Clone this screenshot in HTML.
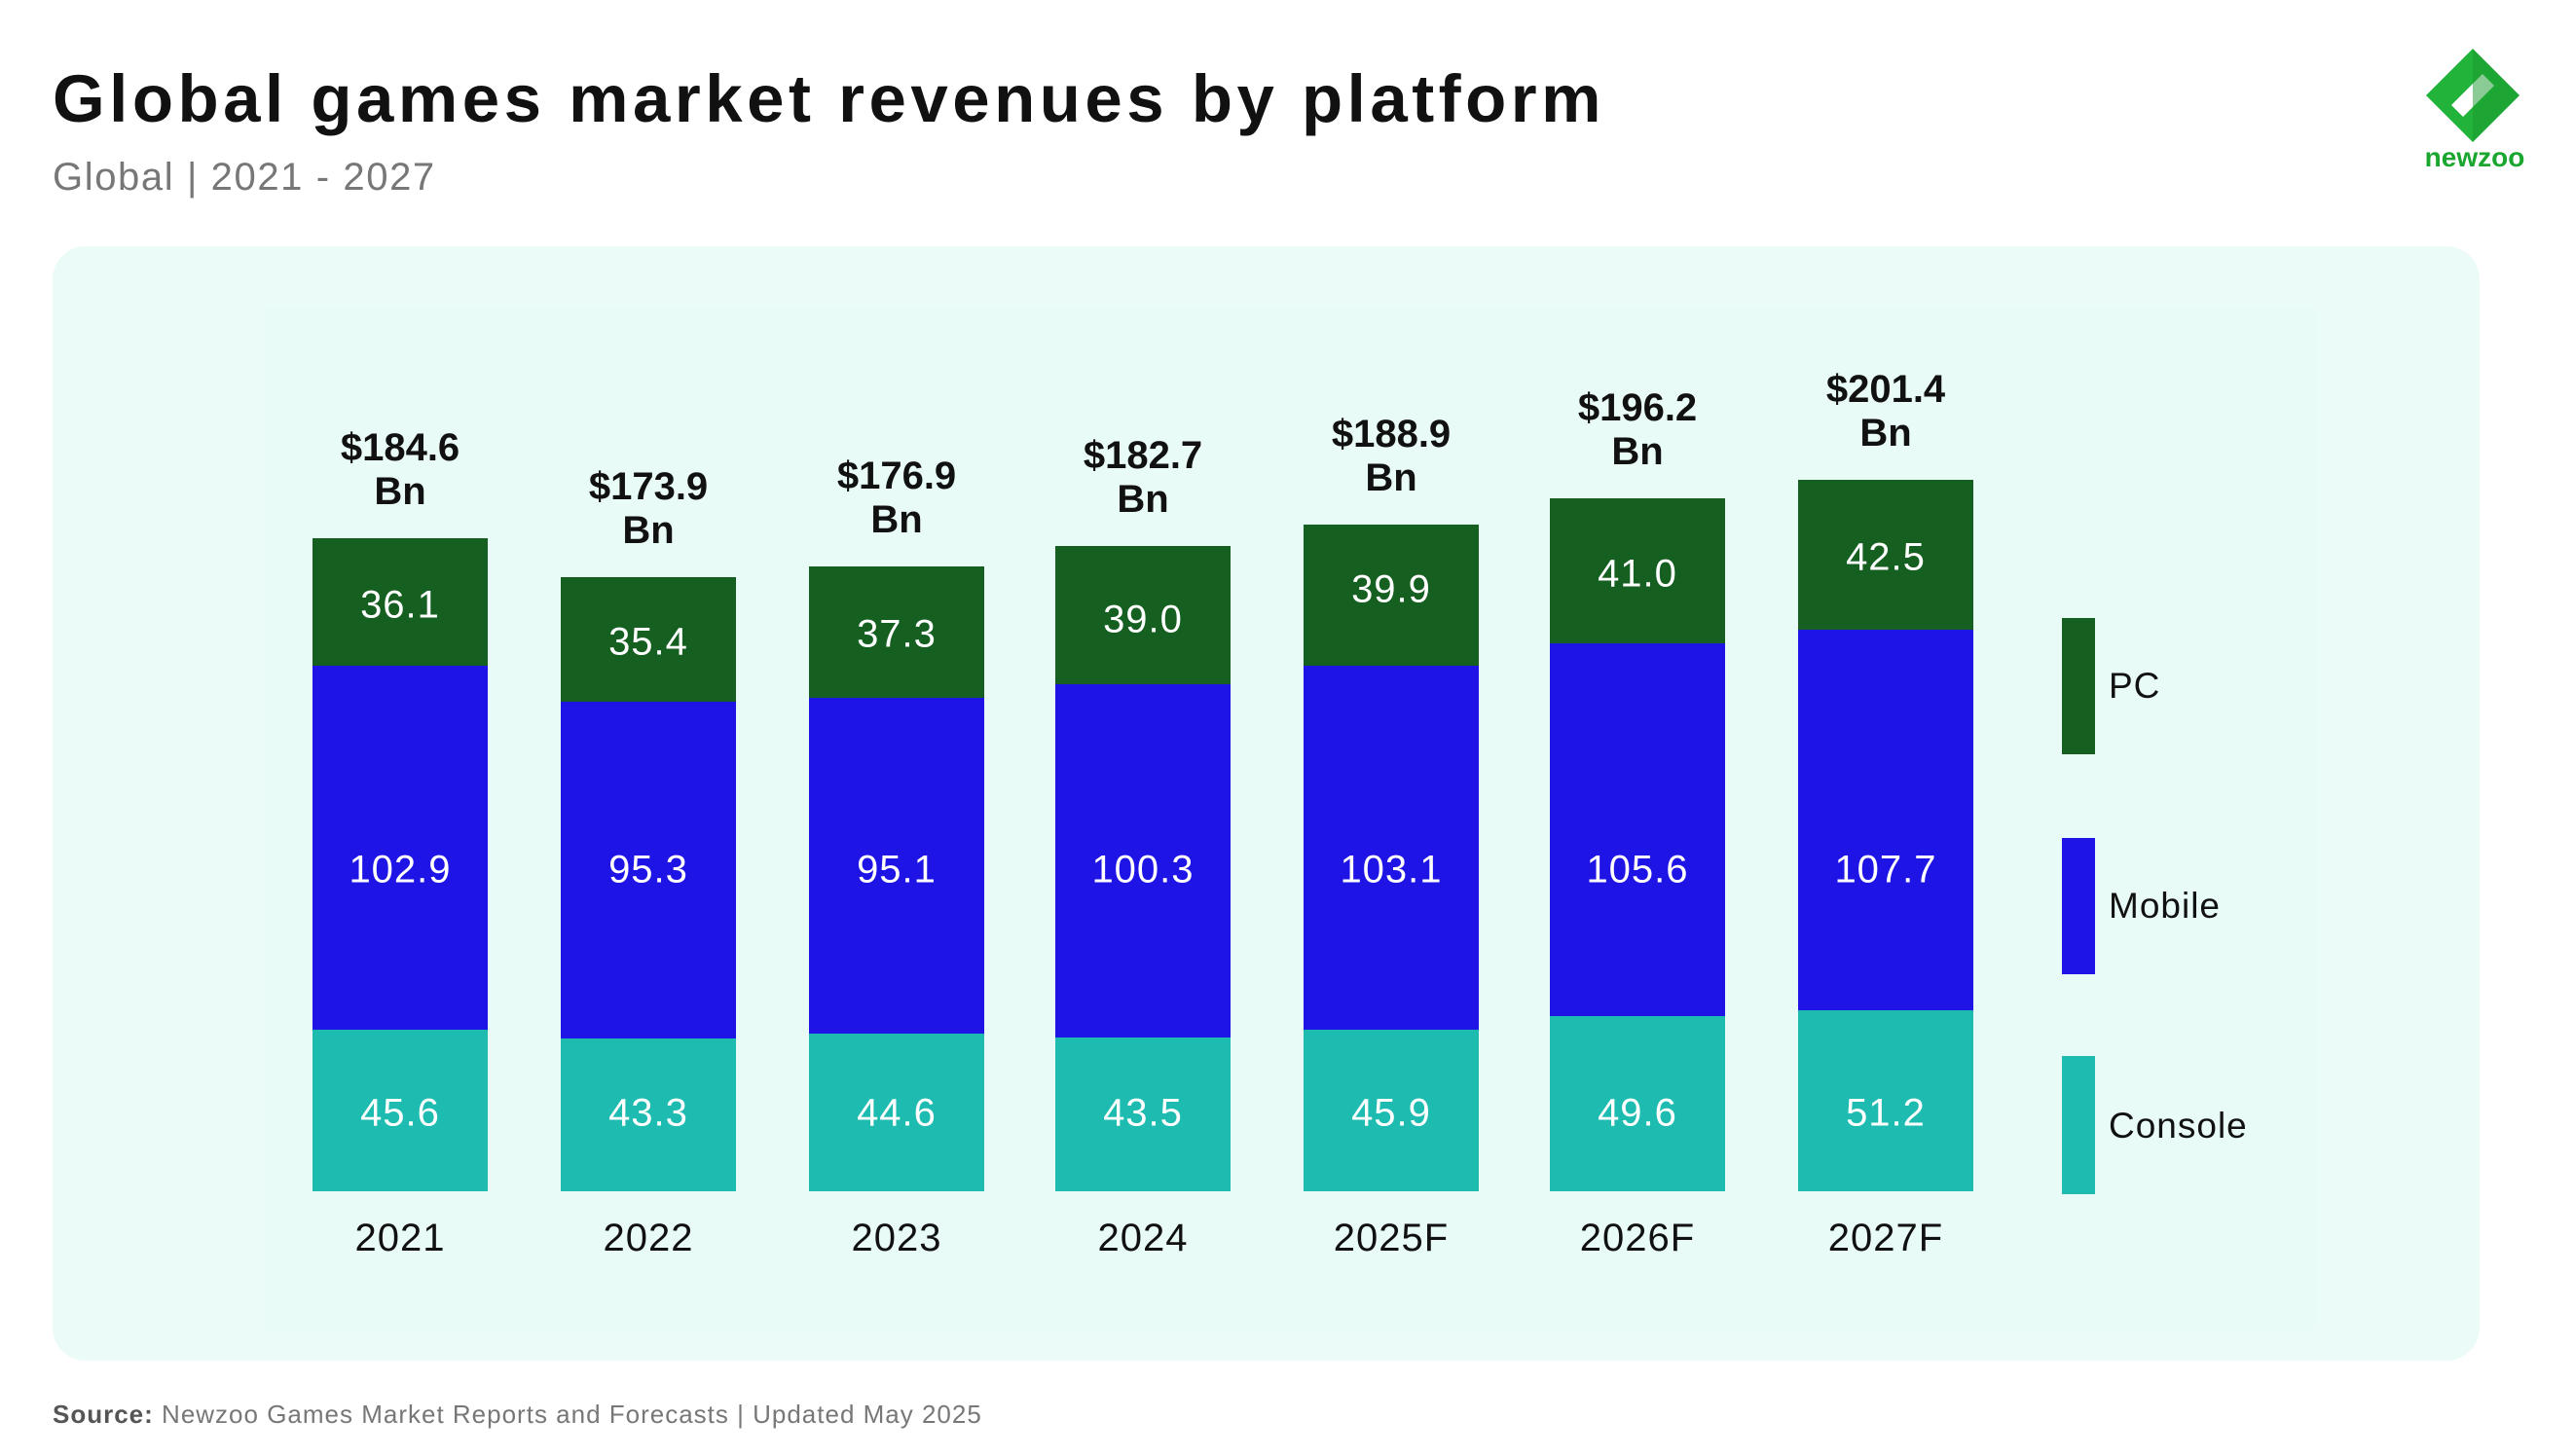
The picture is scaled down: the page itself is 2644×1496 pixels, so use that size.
<!DOCTYPE html>
<html><head><meta charset="utf-8"><style>
*{margin:0;padding:0;box-sizing:border-box}
body{width:2644px;height:1496px;background:#fff;position:relative;overflow:hidden;font-family:"Liberation Sans",sans-serif}
.a{position:absolute}
.bar{position:absolute;width:180px}
.v{position:absolute;width:180px;text-align:center;color:#fff;font-size:40px;transform:translateY(-50%);letter-spacing:1px}
.t{position:absolute;width:260px;text-align:center;font-weight:bold;font-size:40px;line-height:45px;color:#111}
.y{position:absolute;width:260px;text-align:center;font-size:40px;color:#111;top:1250px;letter-spacing:1px}
.sw{position:absolute;left:2118px;width:34px}
.lg{position:absolute;left:2166px;font-size:37px;color:#111;transform:translateY(-50%);letter-spacing:1px}
</style></head><body>
<div class="a" style="left:54px;top:62px;font-size:69px;font-weight:bold;color:#111;letter-spacing:4.5px">Global games market revenues by platform</div>
<div class="a" style="left:54px;top:160px;font-size:40px;color:#777;letter-spacing:1.6px">Global | 2021 - 2027</div>
<svg class="a" style="left:2488px;top:48px" width="104" height="106" viewBox="0 0 104 106">
<polygon points="52,2 100,50 52,98 4,50" fill="#22b33a"/>
<path d="M30,60 L62,28 L74,40 L42,72 Z" fill="#fff"/>
<path d="M52,2 L100,50 L52,98 Z" fill="#179a2d" opacity="0.5"/>
</svg>
<div class="a" style="left:2480px;top:146px;width:124px;text-align:center;font-size:28px;font-weight:bold;color:#1aa62f">newzoo</div>
<div class="a" style="left:54px;top:253px;width:2493px;height:1145px;background:#eafbf8;border-radius:34px"></div>
<div class="a" style="left:270px;top:316px;width:2110px;height:1050px;background:#e9fbf7"></div>

<div class="bar" style="left:321px;top:553px;height:131px;background:#155f20"></div>
<div class="bar" style="left:321px;top:684px;height:374px;background:#1f14e6"></div>
<div class="bar" style="left:321px;top:1058px;height:166px;background:#1ebcb0"></div>
<div class="v" style="left:321px;top:622px">36.1</div><div class="v" style="left:321px;top:894px">102.9</div><div class="v" style="left:321px;top:1144px">45.6</div>
<div class="t" style="left:281px;top:438px">$184.6<br>Bn</div><div class="y" style="left:281px">2021</div>

<div class="bar" style="left:576px;top:593px;height:128px;background:#155f20"></div>
<div class="bar" style="left:576px;top:721px;height:346px;background:#1f14e6"></div>
<div class="bar" style="left:576px;top:1067px;height:157px;background:#1ebcb0"></div>
<div class="v" style="left:576px;top:660px">35.4</div><div class="v" style="left:576px;top:894px">95.3</div><div class="v" style="left:576px;top:1144px">43.3</div>
<div class="t" style="left:536px;top:478px">$173.9<br>Bn</div><div class="y" style="left:536px">2022</div>

<div class="bar" style="left:831px;top:582px;height:135px;background:#155f20"></div>
<div class="bar" style="left:831px;top:717px;height:345px;background:#1f14e6"></div>
<div class="bar" style="left:831px;top:1062px;height:162px;background:#1ebcb0"></div>
<div class="v" style="left:831px;top:652px">37.3</div><div class="v" style="left:831px;top:894px">95.1</div><div class="v" style="left:831px;top:1144px">44.6</div>
<div class="t" style="left:791px;top:467px">$176.9<br>Bn</div><div class="y" style="left:791px">2023</div>

<div class="bar" style="left:1084px;top:561px;height:142px;background:#155f20"></div>
<div class="bar" style="left:1084px;top:703px;height:363px;background:#1f14e6"></div>
<div class="bar" style="left:1084px;top:1066px;height:158px;background:#1ebcb0"></div>
<div class="v" style="left:1084px;top:637px">39.0</div><div class="v" style="left:1084px;top:894px">100.3</div><div class="v" style="left:1084px;top:1144px">43.5</div>
<div class="t" style="left:1044px;top:446px">$182.7<br>Bn</div><div class="y" style="left:1044px">2024</div>

<div class="bar" style="left:1339px;top:539px;height:145px;background:#155f20"></div>
<div class="bar" style="left:1339px;top:684px;height:374px;background:#1f14e6"></div>
<div class="bar" style="left:1339px;top:1058px;height:166px;background:#1ebcb0"></div>
<div class="v" style="left:1339px;top:606px">39.9</div><div class="v" style="left:1339px;top:894px">103.1</div><div class="v" style="left:1339px;top:1144px">45.9</div>
<div class="t" style="left:1299px;top:424px">$188.9<br>Bn</div><div class="y" style="left:1299px">2025F</div>

<div class="bar" style="left:1592px;top:512px;height:149px;background:#155f20"></div>
<div class="bar" style="left:1592px;top:661px;height:383px;background:#1f14e6"></div>
<div class="bar" style="left:1592px;top:1044px;height:180px;background:#1ebcb0"></div>
<div class="v" style="left:1592px;top:590px">41.0</div><div class="v" style="left:1592px;top:894px">105.6</div><div class="v" style="left:1592px;top:1144px">49.6</div>
<div class="t" style="left:1552px;top:397px">$196.2<br>Bn</div><div class="y" style="left:1552px">2026F</div>

<div class="bar" style="left:1847px;top:493px;height:154px;background:#155f20"></div>
<div class="bar" style="left:1847px;top:647px;height:391px;background:#1f14e6"></div>
<div class="bar" style="left:1847px;top:1038px;height:186px;background:#1ebcb0"></div>
<div class="v" style="left:1847px;top:573px">42.5</div><div class="v" style="left:1847px;top:894px">107.7</div><div class="v" style="left:1847px;top:1144px">51.2</div>
<div class="t" style="left:1807px;top:378px">$201.4<br>Bn</div><div class="y" style="left:1807px">2027F</div>

<div class="sw" style="top:635px;height:140px;background:#155f20"></div><div class="lg" style="top:705px">PC</div>
<div class="sw" style="top:861px;height:140px;background:#1f14e6"></div><div class="lg" style="top:931px">Mobile</div>
<div class="sw" style="top:1085px;height:142px;background:#1ebcb0"></div><div class="lg" style="top:1157px">Console</div>

<div class="a" style="left:54px;top:1438px;font-size:26px;color:#777;letter-spacing:1px"><b style="color:#555">Source:</b> Newzoo Games Market Reports and Forecasts | Updated May 2025</div>
</body></html>
